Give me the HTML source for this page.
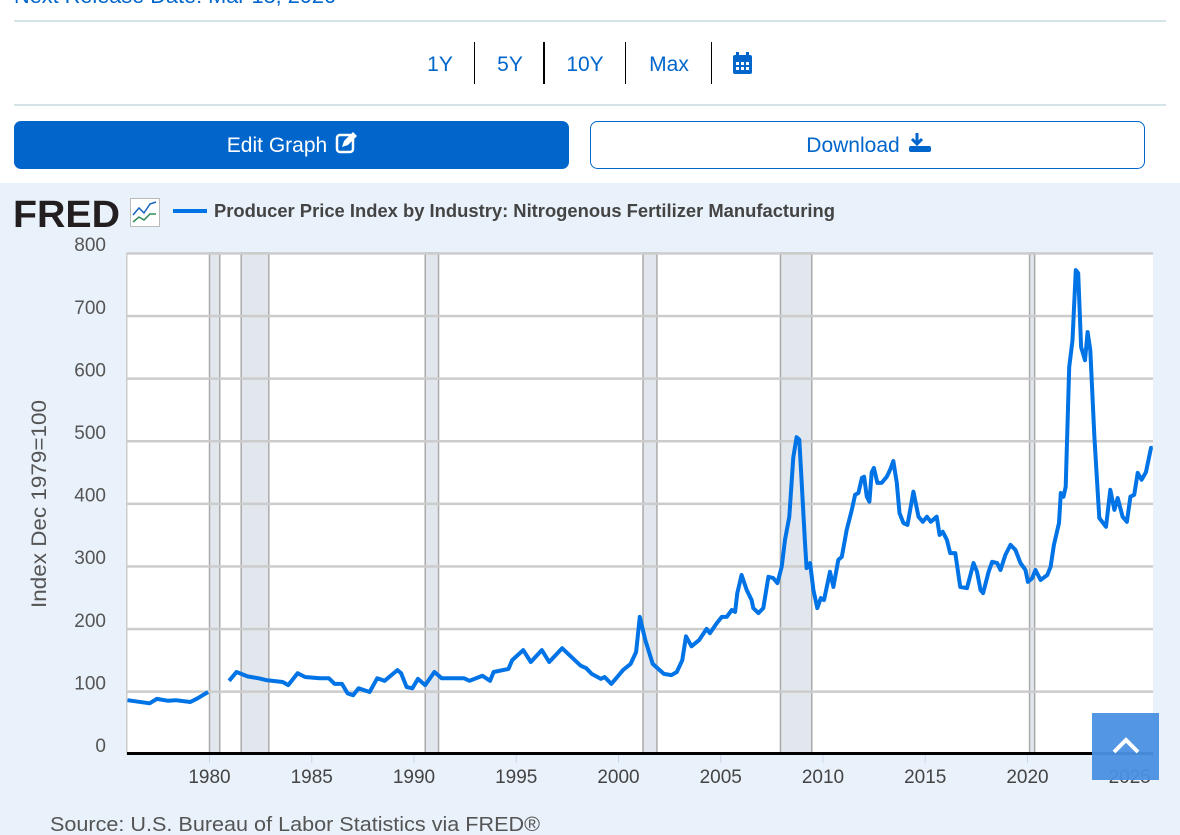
<!DOCTYPE html>
<html><head><meta charset="utf-8"><style>
html,body{margin:0;padding:0;width:1180px;height:835px;overflow:hidden;background:#fff;font-family:"Liberation Sans",sans-serif;}
svg{display:block}
</style></head><body>
<svg id="page" width="1180" height="835" viewBox="0 0 1180 835" xmlns="http://www.w3.org/2000/svg" font-family="Liberation Sans, sans-serif">
<text x="14" y="3" font-size="21" fill="#0066cc" textLength="322" lengthAdjust="spacingAndGlyphs">Next Release Date: Mar 13, 2026</text>
<rect x="14" y="20" width="1152" height="2" fill="#d3e3e8"/>
<g font-size="21" fill="#0066cc" text-anchor="middle">
<text x="440" y="71">1Y</text>
<rect x="474" y="42" width="1" height="42" fill="#000"/>
<text x="510" y="71">5Y</text>
<rect x="543" y="42" width="2" height="42" fill="#000"/>
<text x="585" y="71">10Y</text>
<rect x="625" y="42" width="1" height="42" fill="#000"/>
<text x="669" y="71">Max</text>
<rect x="711" y="42" width="1" height="42" fill="#000"/>
<g><rect x="733" y="55" width="19" height="19" rx="2" fill="#0066cc"/><rect x="736" y="52" width="3" height="5" fill="#0066cc"/><rect x="746" y="52" width="3" height="5" fill="#0066cc"/>
<g fill="#fff"><rect x="736" y="62" width="3" height="3"/><rect x="741" y="62" width="3" height="3"/><rect x="746" y="62" width="3" height="3"/><rect x="736" y="67" width="3" height="3"/><rect x="741" y="67" width="3" height="3"/><rect x="746" y="67" width="3" height="3"/></g></g>
</g>
<rect x="14" y="104" width="1152" height="2" fill="#d3e3e8"/>
<g><rect x="14" y="121" width="555" height="48" rx="7" fill="#0066cc"/>
<text x="277" y="152" font-size="21" fill="#fff" text-anchor="middle">Edit Graph</text>
<rect x="337" y="135" width="16" height="17" rx="3" fill="none" stroke="#fff" stroke-width="2.5"/><path d="M342 147 l2-6 9-9 4 4-9 9z" fill="#fff"/></g>
<g><rect x="590.5" y="121.5" width="554" height="47" rx="7" fill="#fff" stroke="#0066cc"/>
<text x="853" y="152" font-size="21" fill="#0066cc" text-anchor="middle">Download</text>
<path d="M917 133 v10 M912 139 l5 5 5-5" stroke="#0066cc" stroke-width="3" fill="none"/><rect x="909" y="146" width="22" height="6" rx="2" fill="#0066cc"/></g>
<rect x="0" y="183" width="1180" height="652" fill="#e9f1fa"/>
<text x="13" y="227" font-size="38" font-weight="bold" fill="#231f20" textLength="107" lengthAdjust="spacingAndGlyphs">FRED</text>
<g><rect x="130.5" y="198.5" width="29" height="28" fill="#fff" stroke="#bbb"/><path d="M133 215 l6-7 5 5 6-9 6-2" stroke="#1565c0" fill="none" stroke-width="1.5"/><path d="M133 222 l6-5 5 3 6-6 6 0" stroke="#2e8b57" fill="none" stroke-width="1.5"/></g>
<rect x="173" y="209" width="34" height="4" fill="#0073e6"/>
<text x="214" y="217" font-size="18" font-weight="bold" fill="#444" textLength="621" lengthAdjust="spacingAndGlyphs">Producer Price Index by Industry: Nitrogenous Fertilizer Manufacturing</text>
<rect x="127" y="253" width="1026" height="501" fill="#fff"/>
<g id="recessions"></g>
<g id="grid"></g>
<g id="xaxis"></g>
<g id="yaxis"></g>
<path id="series" fill="none" stroke="#0073e6" stroke-width="4" stroke-linejoin="round"/>
<rect x="127" y="752" width="1026" height="3" fill="#000"/>
<text transform="translate(46,504) rotate(-90)" font-size="21" fill="#555" text-anchor="middle" textLength="208" lengthAdjust="spacingAndGlyphs">Index Dec 1979=100</text>
<text x="50" y="831" font-size="20" fill="#555" textLength="490" lengthAdjust="spacingAndGlyphs">Source: U.S. Bureau of Labor Statistics via FRED®</text>
<g><rect x="1092" y="713" width="67" height="67" fill="#4a90e2" opacity="0.95"/><path d="M1114 752 l12-12 12 12" stroke="#fff" stroke-width="4" fill="none"/></g>
</svg>
<script>
const years1=[1975.99,1977.07,1977.43,1977.98,1978.34,1979.06,1979.42,1979.93];
const values1=[86,81,88,85,86,83,89,99];
const years2=[1980.96,1981.32,1981.86,1982.41,1982.77,1983.58,1983.85,1984.31,1984.67,1985.39,1985.84,1986.12,1986.48,1986.75,1987.02,1987.29,1987.83,1988.2,1988.56,1989.19,1989.37,1989.64,1989.92,1990.19,1990.55,1991.0,1991.36,1992.45,1992.72,1993.35,1993.72,1993.89,1994.62,1994.8,1995.34,1995.71,1996.25,1996.61,1997.24,1997.6,1998.15,1998.42,1998.69,1999.14,1999.32,1999.65,1999.86,2000.22,2000.59,2000.86,2001.04,2001.31,2001.67,2002.22,2002.58,2002.85,2003.12,2003.3,2003.57,2003.94,2004.31,2004.47,2004.8,2005.05,2005.29,2005.54,2005.7,2005.81,2006.02,2006.27,2006.51,2006.59,2006.84,2007.08,2007.33,2007.57,2007.77,2007.98,2008.14,2008.35,2008.55,2008.71,2008.84,2008.96,2009.12,2009.2,2009.37,2009.53,2009.72,2009.89,2010.05,2010.34,2010.51,2010.75,2010.92,2011.16,2011.41,2011.57,2011.73,2011.9,2012.01,2012.14,2012.27,2012.38,2012.49,2012.66,2012.87,2013.12,2013.28,2013.44,2013.61,2013.74,2013.93,2014.13,2014.42,2014.67,2014.88,2015.08,2015.27,2015.56,2015.7,2015.86,2016.06,2016.22,2016.47,2016.71,2017.04,2017.36,2017.53,2017.7,2017.83,2018.1,2018.27,2018.52,2018.68,2018.92,2019.17,2019.41,2019.66,2019.9,2020.02,2020.23,2020.39,2020.64,2020.97,2021.13,2021.29,2021.54,2021.63,2021.76,2021.87,2022.04,2022.2,2022.36,2022.48,2022.62,2022.81,2022.94,2023.07,2023.27,2023.51,2023.84,2024.05,2024.25,2024.41,2024.65,2024.86,2025.03,2025.22,2025.39,2025.58,2025.79,2026.04,2026.12];
const values2=[117,131,124,121,118,115,110,129,123,121,121,112,112,97,94,105,99,121,117,134,129,107,105,120,110,131,121,121,117,125,117,131,136,150,166,147,166,147,169,158,141,137,128,120,123,112,120,134,144,163,219,182,144,128,126,131,150,188,172,182,200,193,209,219,219,230,227,257,286,262,246,233,225,233,283,281,273,299,342,379,474,506,502,433,337,297,305,262,233,249,246,291,267,310,315,358,390,414,417,441,443,411,403,450,457,433,433,443,454,468,433,385,369,366,419,379,371,379,371,379,350,355,342,321,321,267,265,305,291,262,257,291,307,305,294,318,334,326,305,294,275,281,294,278,286,299,334,369,417,411,427,618,661,773,768,650,629,674,645,506,377,363,422,390,409,379,371,411,414,449,438,450,489,489];
const recStart=[1980.0,1981.55,1990.55,2001.2,2007.92,2020.1];
const recEnd=[1980.5,1982.9,1991.2,2001.88,2009.45,2020.35];
const yTicks=[0,100,200,300,400,500,600,700,800];
const xTicks=[1980,1985,1990,1995,2000,2005,2010,2015,2020,2025];
const NS='http://www.w3.org/2000/svg';
function xs(yr){return 209.5+(yr-1980)*20.45;}
function ys(v){return 754-v*0.626;}
function mk(tag,attrs,parent){const e=document.createElementNS(NS,tag);for(const k in attrs)e.setAttribute(k,attrs[k]);parent.appendChild(e);return e;}
const rec=document.getElementById('recessions');
recStart.forEach((s,i)=>{
  const x1=xs(s),x2=xs(recEnd[i]);
  const r=mk('rect',{x:x1,y:253,width:x2-x1,height:501,fill:'#e1e7ec',stroke:'#aaa','stroke-width':1.5},rec);
  
  
});
const grid=document.getElementById('grid'),ya=document.getElementById('yaxis'),xa=document.getElementById('xaxis');
yTicks.forEach(v=>{
  if(v>0){const l=mk('rect',{x:127,y:ys(v)-1,width:1026,height:2.5,fill:'#cccccc'},grid);
  
  }
  const t=mk('text',{x:106,y:ys(v)-2,'font-size':19,fill:'#555','text-anchor':'end'},ya);t.textContent=v;
  
  
});
xTicks.forEach(yr=>{
  mk('rect',{x:xs(yr)-0.5,y:755,width:1,height:8,fill:'#ccd6eb'},xa);
  const t=mk('text',{x:xs(yr),y:783,'font-size':19,fill:'#444','text-anchor':'middle'},xa);t.textContent=yr;
  
  
});
mk('rect',{x:126,y:253,width:1.5,height:501,fill:'#ccc'},grid);
function seg(ys_,vs){return vs.map((v,i)=>(i?'L':'M')+xs(ys_[i]).toFixed(1)+' '+ys(v).toFixed(1)).join(' ');}
document.getElementById('series').setAttribute('d',seg(years1,values1)+' '+seg(years2,values2));
</script>
</body></html>
